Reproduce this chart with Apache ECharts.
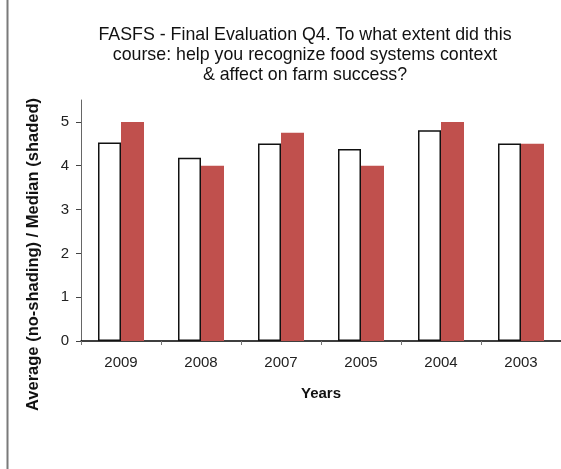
<!DOCTYPE html>
<html>
<head>
<meta charset="utf-8">
<script src="https://cdn.jsdelivr.net/npm/echarts@6/dist/echarts.min.js"></script>
<style>
  html, body { margin: 0; padding: 0; background: #fff; }
  #chart { width: 561px; height: 469px; }
</style>
</head>
<body>
<div id="chart"></div>
<script>
// Course evaluation scores by year
const years = ['2009', '2008', '2007', '2005', '2004', '2003'];
const averageScores = [4.53, 4.18, 4.51, 4.38, 4.81, 4.51];
const medianScores = [5, 4, 4.75, 4, 5, 4.5];
const yTicks = [0, 1, 2, 3, 4, 5];

const font = '"Liberation Sans", Arial, sans-serif';

const chart = echarts.init(document.getElementById('chart'), null, { renderer: 'canvas' });

chart.setOption({
  animation: false,
  backgroundColor: '#fff',
  title: {
    text: 'FASFS - Final Evaluation Q4. To what extent did this\ncourse: help you recognize food systems context\n& affect on farm success?',
    left: 300,
    top: 20,
    textAlign: 'center',
    textStyle: {
      fontFamily: font,
      fontSize: 17.8,
      fontWeight: 'normal',
      color: '#111',
      lineHeight: 20
    }
  },
  graphic: [{
    type: 'line',
    shape: { x1: 7.5, y1: 0, x2: 7.5, y2: 469 },
    style: { stroke: '#7a7a7a', lineWidth: 2 }
  }],
  grid: { left: 81, right: 0, top: 100, bottom: 128 },
  xAxis: {
    type: 'category',
    data: years,
    name: 'Years',
    nameLocation: 'middle',
    nameGap: 45,
    nameTextStyle: { fontFamily: font, fontSize: 15, fontWeight: 'bold', color: '#111' },
    axisLine: { lineStyle: { color: '#000', width: 1.5 } },
    axisTick: { show: true, length: 4, lineStyle: { color: '#777' } },
    axisLabel: { fontFamily: font, fontSize: 15, color: '#222', margin: 14 }
  },
  yAxis: {
    type: 'value',
    min: 0,
    max: 5.5,
    interval: 1,
    name: 'Average (no-shading) / Median (shaded)',
    nameLocation: 'middle',
    nameGap: 39,
    nameRotate: 90,
    nameTextStyle: {
      fontFamily: font, fontSize: 16.5, fontWeight: 'bold', color: '#111',
      padding: [0, 68, 0, 0]
    },
    splitLine: { show: false },
    axisLine: { show: true, lineStyle: { color: '#666', width: 1 } },
    axisTick: { show: true, length: 5, customValues: yTicks, lineStyle: { color: '#444' } },
    axisLabel: { fontFamily: font, fontSize: 15, color: '#222', margin: 12, customValues: yTicks }
  },
  series: [
    {
      name: 'Average',
      type: 'bar',
      data: averageScores,
      barWidth: 23,
      barGap: '0%',
      itemStyle: { color: '#fff', borderColor: '#111', borderWidth: 1.5 }
    },
    {
      name: 'Median',
      type: 'bar',
      data: medianScores,
      barWidth: 23,
      itemStyle: { color: '#c0504d' }
    }
  ]
});
</script>
</body>
</html>
